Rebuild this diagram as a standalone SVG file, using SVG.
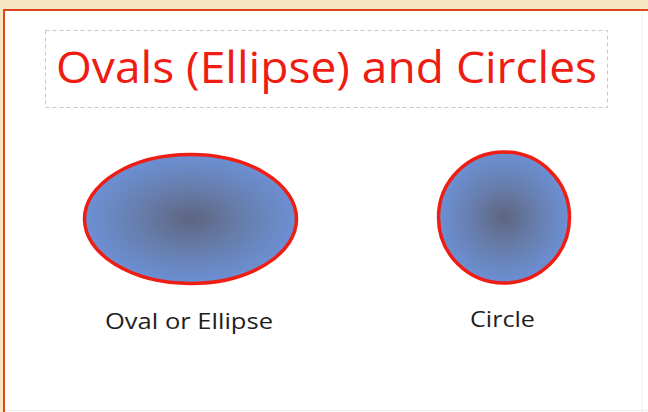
<svg xmlns="http://www.w3.org/2000/svg" width="648" height="412" viewBox="0 0 648 412">
  <defs>
    <radialGradient id="shade" cx="0.5" cy="0.5" r="0.5">
      <stop offset="0" stop-color="#5e6580"/>
      <stop offset="0.5" stop-color="#677ead"/>
      <stop offset="1" stop-color="#6c90d4"/>
    </radialGradient>
  </defs>
  <style>
    .shape { fill: url(#shade); stroke: #ee1e14; stroke-width: 3.5; }
    .title { font-family: "Open Sans", "Liberation Sans", sans-serif; fill: #ee1c12; }
    .label { font-family: "Open Sans", "Liberation Sans", sans-serif; fill: #1e1e1e; }
  </style>
  <rect x="0" y="0" width="648" height="412" fill="#f7e6c2"/>
  <rect x="4" y="10" width="644" height="402" fill="#ffffff"/>
  <path d="M4 412 V10 H648" fill="none" stroke="#e0461e" stroke-width="2"/>
  <line x1="642" y1="11" x2="642" y2="412" stroke="#f4efe6" stroke-width="1"/>
  <line x1="5" y1="410.5" x2="648" y2="410.5" stroke="#eef0e8" stroke-width="1"/>
  <g id="title">
    <rect x="45.5" y="30.5" width="562" height="77" fill="none" stroke="#c8c8c8" stroke-width="1" stroke-dasharray="4 3"/>
    <text class="title" x="56" y="83" font-size="43" textLength="541" lengthAdjust="spacingAndGlyphs">Ovals (Ellipse) and Circles</text>
  </g>
  <g id="oval">
    <ellipse class="shape" cx="190.5" cy="219" rx="106" ry="64.5"/>
    <text class="label" x="105" y="329" font-size="22" textLength="168" lengthAdjust="spacingAndGlyphs">Oval or Ellipse</text>
  </g>
  <g id="circle">
    <circle class="shape" cx="504" cy="217.5" r="65.5"/>
    <text class="label" x="470" y="327" font-size="22" textLength="65" lengthAdjust="spacingAndGlyphs">Circle</text>
  </g>
  <g id="connectors"/>
</svg>
